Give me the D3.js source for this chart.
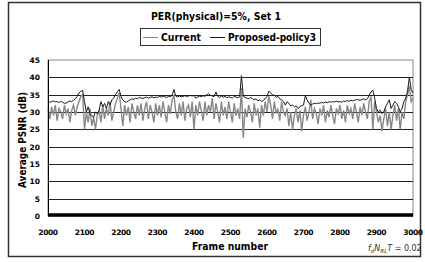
<!DOCTYPE html>
<html>
<head>
<meta charset="utf-8">
<script src="https://cdn.jsdelivr.net/npm/d3@7"></script>
<style>
  body { margin: 0; background: #fff; }
  text { font-family: "DejaVu Sans", Verdana, sans-serif; }
</style>
</head>
<body>
<div id="wrapper"></div>
<script>
// frames sampled every 5 from 2000 to 3000
const frameStart = 2000
const frameStep = 5
const yTicks = [0, 5, 10, 15, 20, 25, 30, 35, 40, 45]
const xTicks = [2000, 2100, 2200, 2300, 2400, 2500, 2600, 2700, 2800, 2900, 3000]
const seriesNames = ["Current", "Proposed-policy3"]

const current = [
  31, 28, 31.5, 29, 32, 27.5, 31, 30, 28, 32, 29.5, 31, 27, 30.5, 32, 29, 31.5, 33, 34.5, 35,
  25, 30, 27, 31, 26, 28.5, 25, 29, 30.5, 27, 32, 28, 31, 29, 33, 27.5, 30, 32.5, 34, 35.5,
  31, 26, 32, 29, 31.5, 27, 32.5, 30, 28, 32, 29, 32.5, 27.5, 31, 33, 28, 32, 30, 27, 32.5,
  29, 32, 28.5, 33, 30, 27, 32, 29.5, 33.5, 35, 30, 28, 32.5, 29, 33, 27.5, 31, 32, 28.5, 33,
  25, 32, 29, 33, 30.5, 27.5, 33, 29, 32, 30, 34, 28, 32.5, 30, 27, 33, 29, 31.5, 28, 33,
  30, 27, 32.5, 29, 31, 28, 37, 22.5, 31, 28.5, 32, 30, 27, 32.5, 29, 31, 25.5, 32, 29, 33,
  30, 34.5, 32, 28, 33, 29.5, 31, 27.5, 33, 30, 29, 31, 26, 30, 25, 29, 31, 27, 30.5, 24.5,
  29, 31.5, 27.5, 30, 33.5, 28, 31, 29.5, 26.5, 31, 29, 32, 27, 30.5, 28.5, 32, 29, 26.5, 31, 29.5,
  32, 28, 30.5, 27, 32, 29.5, 31, 28, 32.5, 30, 27, 31.5, 29, 32.5, 30, 28, 33, 34.5, 25, 33,
  30, 27, 29, 24.5, 28, 31, 26, 30, 25, 29, 32, 27.5, 31, 25, 30, 28, 33, 35, 37.5, 33,
  34
]

const proposed = [
  33, 32.8, 33, 33.2, 32.9, 33, 32.7, 33.1, 32.8, 32.5, 32.6, 32.9, 33.2, 33, 33.4, 33.8, 34.5, 35.5, 36, 36.2,
  33, 30, 31.5, 29.5, 29, 28.5, 30, 29.5, 30.5, 33, 31.5, 32.5, 31, 33, 32, 33.5, 34, 35, 35.8, 36.5,
  34.5, 33.5, 33, 32.8, 33.2, 33.5, 33.8, 33.6, 34, 33.8, 34.2, 34, 33.9, 34.1, 34.3, 34, 34.2, 34.4, 34.1, 34.3,
  34.2, 34.5, 34.3, 34.6, 34.4, 34.2, 34.5, 34.4, 34.8, 36.5, 34.6, 34.3, 34.6, 34.4, 34.5, 34.7, 34.5, 34.6, 34.8, 34.6,
  34.8, 34, 34.3, 34.6, 34.4, 34.7, 34.5, 35, 35.3, 34.8, 34.6, 34.4, 35.8, 34.5, 34.2, 34.6, 34.3, 34.5, 34.1, 34.4,
  34.2, 34, 34.5, 34.3, 34.1, 34.4, 40.5, 34.5, 34.2, 34, 33.8, 34.2, 33.9, 33.5, 33.8, 33.2, 33.5, 33, 33.4, 33.8,
  34.5, 36, 35.5, 35, 34.8, 34.2, 34.5, 33.8, 33.5, 33, 32, 33, 32.5, 31.8, 32, 31.5, 31.8, 31, 31.5, 31.8,
  32, 34.7, 33.5, 32.5, 32, 32.3, 32.5, 32.4, 32.6, 32.5, 32.8, 32.6, 32.9, 32.7, 33, 32.8, 33, 32.9, 33.1, 32.9,
  33, 32.8, 33.2, 33, 33.3, 33.1, 33.4, 33.2, 33.4, 33.6, 33.5, 33.4, 33.6, 33.8, 33.5, 33.8, 34.8, 35.8, 36.3, 34,
  31, 30, 30.5, 29.5, 30, 31.5, 32.5, 33.5, 31, 32, 33, 32.5, 31.5, 30, 31, 33, 34, 36, 40, 36.5,
  35.5
]

const width = 425
const height = 262
const plot = { left: 48, right: 413, top: 60, bottom: 216 }

const svg = d3.select("#wrapper")
  .append("svg")
  .attr("width", width)
  .attr("height", height)

// outer frame
svg.append("rect")
  .attr("x", 8.5).attr("y", 2.5)
  .attr("width", 412).attr("height", 254)
  .attr("fill", "none")
  .attr("stroke", "#333")
  .attr("stroke-width", 1.5)

const xScaler = d3.scaleLinear().domain([2000, 3000]).range([plot.left, plot.right])
const yScaler = d3.scaleLinear().domain([0, 45]).range([plot.bottom, plot.top])

// plot area border
svg.append("rect")
  .attr("x", plot.left).attr("y", plot.top)
  .attr("width", plot.right - plot.left).attr("height", plot.bottom - plot.top)
  .attr("fill", "#fff")
  .attr("stroke", "#888")
  .attr("stroke-width", 1)

// gridlines
svg.append("g").selectAll("line")
  .data(yTicks.filter(d => d > 0 && d < 45))
  .join("line")
  .attr("x1", plot.left).attr("x2", plot.right)
  .attr("y1", d => Math.round(yScaler(d)) + 0.5)
  .attr("y2", d => Math.round(yScaler(d)) + 0.5)
  .attr("stroke", "#222")
  .attr("stroke-width", 1)

// y tick labels
svg.append("g").selectAll("text")
  .data(yTicks)
  .join("text")
  .attr("x", plot.left - 8)
  .attr("y", d => yScaler(d) + 3)
  .attr("text-anchor", "end")
  .attr("font-size", 7.5)
  .attr("font-weight", "bold")
  .text(d => d)

// x tick labels
svg.append("g").selectAll("text")
  .data(xTicks)
  .join("text")
  .attr("x", d => xScaler(d))
  .attr("y", 235)
  .attr("text-anchor", "middle")
  .attr("font-size", 7.5)
  .attr("font-weight", "bold")
  .attr("letter-spacing", -0.4)
  .text(d => d)

const frames = d3.range(current.length).map(i => frameStart + i * frameStep)

const lineGenerator = values => d3.line()
  .x((d, i) => xScaler(frames[i]))
  .y(d => yScaler(d))(values)

svg.append("path")
  .attr("d", lineGenerator(current))
  .attr("fill", "none")
  .attr("stroke", "#888")
  .attr("stroke-width", 1.4)

svg.append("path")
  .attr("d", lineGenerator(proposed))
  .attr("fill", "none")
  .attr("stroke", "#1a1a1a")
  .attr("stroke-width", 1)

// left axis and thick baseline
svg.append("line")
  .attr("x1", plot.left + 0.5).attr("x2", plot.left + 0.5)
  .attr("y1", plot.top).attr("y2", plot.bottom)
  .attr("stroke", "#000")
svg.append("line")
  .attr("x1", plot.left).attr("x2", plot.right)
  .attr("y1", yScaler(0) - 1).attr("y2", yScaler(0) - 1)
  .attr("stroke", "#000")
  .attr("stroke-width", 3.5)

// title
svg.append("text")
  .attr("x", 216).attr("y", 19.5)
  .attr("text-anchor", "middle")
  .attr("font-size", 10.5)
  .attr("font-weight", "bold")
  .attr("textLength", 130)
  .attr("lengthAdjust", "spacingAndGlyphs")
  .text("PER(physical)=5%, Set 1")

// legend
const legend = svg.append("g")
legend.append("rect")
  .attr("x", 140.5).attr("y", 28.5)
  .attr("width", 180).attr("height", 17)
  .attr("fill", "#fff")
  .attr("stroke", "#333")
const legendX = [143, 210]
const legendWidths = [40, 88]
const legendColors = ["#888", "#1a1a1a"]
seriesNames.forEach((name, i) => {
  legend.append("line")
    .attr("x1", legendX[i]).attr("x2", legendX[i] + 15)
    .attr("y1", 37.5).attr("y2", 37.5)
    .attr("stroke", legendColors[i])
  legend.append("text")
    .attr("x", legendX[i] + 18).attr("y", 41)
    .attr("font-size", 10)
    .attr("font-weight", "bold")
    .attr("textLength", legendWidths[i])
    .attr("lengthAdjust", "spacingAndGlyphs")
    .text(name)
})

// axis titles
svg.append("text")
  .attr("x", 230).attr("y", 250)
  .attr("text-anchor", "middle")
  .attr("font-size", 10)
  .attr("font-weight", "bold")
  .attr("textLength", 76)
  .attr("lengthAdjust", "spacingAndGlyphs")
  .text("Frame number")

svg.append("text")
  .attr("transform", `translate(26,${(plot.top + plot.bottom) / 2 + 2}) rotate(-90)`)
  .attr("text-anchor", "middle")
  .attr("font-size", 10)
  .attr("font-weight", "bold")
  .attr("textLength", 96)
  .attr("lengthAdjust", "spacingAndGlyphs")
  .text("Average PSNR (dB)")

// formula note
const note = svg.append("text")
  .attr("x", 368).attr("y", 251)
  .attr("font-family", "Liberation Serif, serif")
  .attr("font-size", 8)
  .attr("fill", "#333")
note.append("tspan").attr("font-style", "italic").text("f")
note.append("tspan").attr("font-style", "italic").attr("font-size", 5.5).attr("dy", 2).text("d")
note.append("tspan").attr("font-style", "italic").attr("dy", -2).text("N")
note.append("tspan").attr("font-style", "italic").attr("font-size", 5.5).attr("dy", 2).text("RL")
note.append("tspan").attr("font-style", "italic").attr("dy", -2).text("T")
note.append("tspan").text(" = 0.02")
</script>
</body>
</html>
